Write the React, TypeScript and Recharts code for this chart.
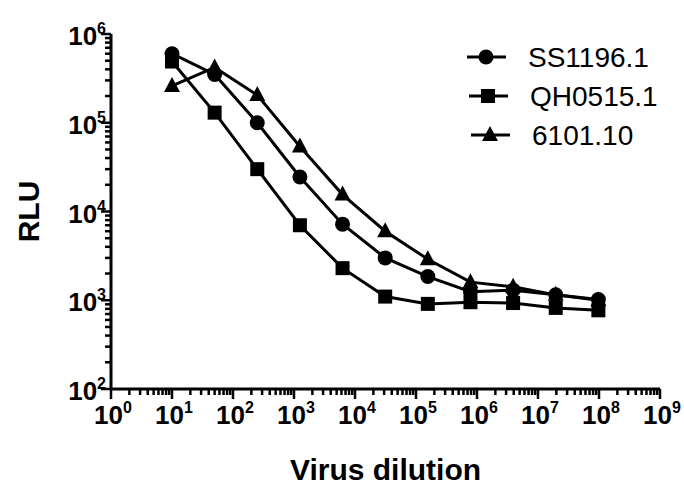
import { LineChart, Line, XAxis, YAxis, Legend } from "recharts";

// 5-fold virus dilution series
const dilutions = [10, 50, 250, 1250, 6250, 31250, 156250, 781250, 3906250, 19531250, 97656250];
const ss1196 = [600000, 350000, 100000, 24500, 7200, 3000, 1850, 1250, 1300, 1150, 1020];
const qh0515 = [490000, 130000, 30000, 7000, 2300, 1100, 910, 950, 930, 820, 770];
const s6101 = [260000, 420000, 205000, 54000, 15500, 6000, 2900, 1600, 1420, 1150, 1000];

const seriesNames = ["SS1196.1", "QH0515.1", "6101.10"];
const xDecades = [0, 1, 2, 3, 4, 5, 6, 7, 8, 9];
const yDecades = [2, 3, 4, 5, 6];

const FONT = "'Liberation Sans', Arial, Helvetica, sans-serif";

const data = dilutions.map((d, i) => ({
  x: d,
  ss: ss1196[i],
  qh: qh0515[i],
  t: s6101[i],
}));

// major ticks at powers of ten, minor at 2..9
const logTicks = (decades) => {
  const out = [];
  decades.forEach((d, i) => {
    if (i === decades.length - 1) {
      out.push(Math.pow(10, d));
      return;
    }
    for (let k = 1; k <= 9; k++) out.push(k * Math.pow(10, d));
  });
  return out;
};

const isMajor = (v) => {
  const e = Math.round(Math.log10(v));
  return Math.abs(Math.pow(10, e) - v) < 1e-6 * v;
};

const XTick = ({ x, y, payload }) => {
  const v = payload.value;
  const major = isMajor(v);
  const e = Math.round(Math.log10(v));
  return (
    <g>
      <line x1={x} y1={y} x2={x} y2={y + (major ? 10 : 6)} stroke="#000" strokeWidth={2.5} />
      {major && (
        <text x={x + 2} y={y + 35} textAnchor="middle" fontFamily={FONT} fontWeight="bold" fontSize={26} fill="#000">
          10<tspan dy={-11} fontSize={16}>{e}</tspan>
        </text>
      )}
    </g>
  );
};

const YTick = ({ x, y, payload }) => {
  const v = payload.value;
  const major = isMajor(v);
  const e = Math.round(Math.log10(v));
  return (
    <g>
      <line x1={x} y1={y} x2={x - (major ? 10 : 6)} y2={y} stroke="#000" strokeWidth={2.5} />
      {major && (
        <text x={x - 5} y={y + 11} textAnchor="end" fontFamily={FONT} fontWeight="bold" fontSize={26} fill="#000">
          10<tspan dy={-11} fontSize={16}>{e}</tspan>
        </text>
      )}
    </g>
  );
};

const CircleDot = (props) => {
  const { cx, cy, index } = props;
  if (cx == null || cy == null) return null;
  return <circle key={`c-${index}`} cx={cx} cy={cy} r={7.5} fill="#000" />;
};

const SquareDot = (props) => {
  const { cx, cy, index } = props;
  if (cx == null || cy == null) return null;
  return <rect key={`s-${index}`} x={cx - 7} y={cy - 7} width={14} height={14} fill="#000" />;
};

const TriangleDot = (props) => {
  const { cx, cy, index } = props;
  if (cx == null || cy == null) return null;
  return (
    <polygon
      key={`t-${index}`}
      points={`${cx},${cy - 9} ${cx - 8},${cy + 6} ${cx + 8},${cy + 6}`}
      fill="#000"
    />
  );
};

const renderLegend = () => {
  const rows = [
    { name: seriesNames[0], y: 22, mk: (x, y) => <circle cx={x} cy={y} r={7.5} fill="#000" /> },
    { name: seriesNames[1], y: 61, mk: (x, y) => <rect x={x - 7} y={y - 7} width={14} height={14} fill="#000" /> },
    {
      name: seriesNames[2],
      y: 100,
      mk: (x, y) => <polygon points={`${x},${y - 9} ${x - 8},${y + 6} ${x + 8},${y + 6}`} fill="#000" />,
    },
  ];
  return (
    <svg width={220} height={125}>
      {rows.map((r, i) => (
        <g key={r.name}>
          <line x1={7 + i * 2} x2={46 + i * 2} y1={r.y} y2={r.y} stroke="#000" strokeWidth={3} />
          {r.mk(26 + i * 2, r.y)}
          <text x={68 + i * 2} y={r.y + 10} fontFamily={FONT} fontSize={28} fill="#000">
            {r.name}
          </text>
        </g>
      ))}
    </svg>
  );
};

export default function App() {
  return (
    <div style={{ position: "absolute", left: 0, top: 0, background: "#fff" }}>
      <LineChart width={684} height={500} data={data} margin={{ top: 34, right: 24, bottom: 0, left: 0 }}>
        <XAxis
          dataKey="x"
          type="number"
          scale="log"
          domain={[1, 1e9]}
          ticks={logTicks(xDecades)}
          interval={0}
          allowDataOverflow
          height={111}
          tickSize={0}
          tickMargin={0}
          tickLine={false}
          axisLine={{ stroke: "#000", strokeWidth: 3 }}
          tick={XTick}
          label={{
            value: "Virus dilution",
            position: "insideBottom",
            offset: 20,
            fontFamily: FONT,
            fontWeight: "bold",
            fontSize: 30,
            fill: "#000",
          }}
        />
        <YAxis
          type="number"
          scale="log"
          domain={[100, 1e6]}
          ticks={logTicks(yDecades)}
          interval={0}
          allowDataOverflow
          width={111}
          tickSize={0}
          tickMargin={0}
          tickLine={false}
          axisLine={{ stroke: "#000", strokeWidth: 3 }}
          tick={YTick}
          label={{
            value: "RLU",
            angle: -90,
            position: "insideLeft",
            offset: 28,
            fontFamily: FONT,
            fontWeight: "bold",
            fontSize: 30,
            fill: "#000",
            style: { textAnchor: "middle" },
          }}
        />
        <Legend
          layout="vertical"
          verticalAlign="middle"
          align="center"
          content={renderLegend}
          wrapperStyle={{ position: "absolute", top: 35, left: 460, width: 220, height: 125 }}
        />
        <Line dataKey="t" name={seriesNames[2]} stroke="#000" strokeWidth={3} dot={TriangleDot} isAnimationActive={false} />
        <Line dataKey="ss" name={seriesNames[0]} stroke="#000" strokeWidth={3} dot={CircleDot} isAnimationActive={false} />
        <Line dataKey="qh" name={seriesNames[1]} stroke="#000" strokeWidth={3} dot={SquareDot} isAnimationActive={false} />
      </LineChart>
    </div>
  );
}
